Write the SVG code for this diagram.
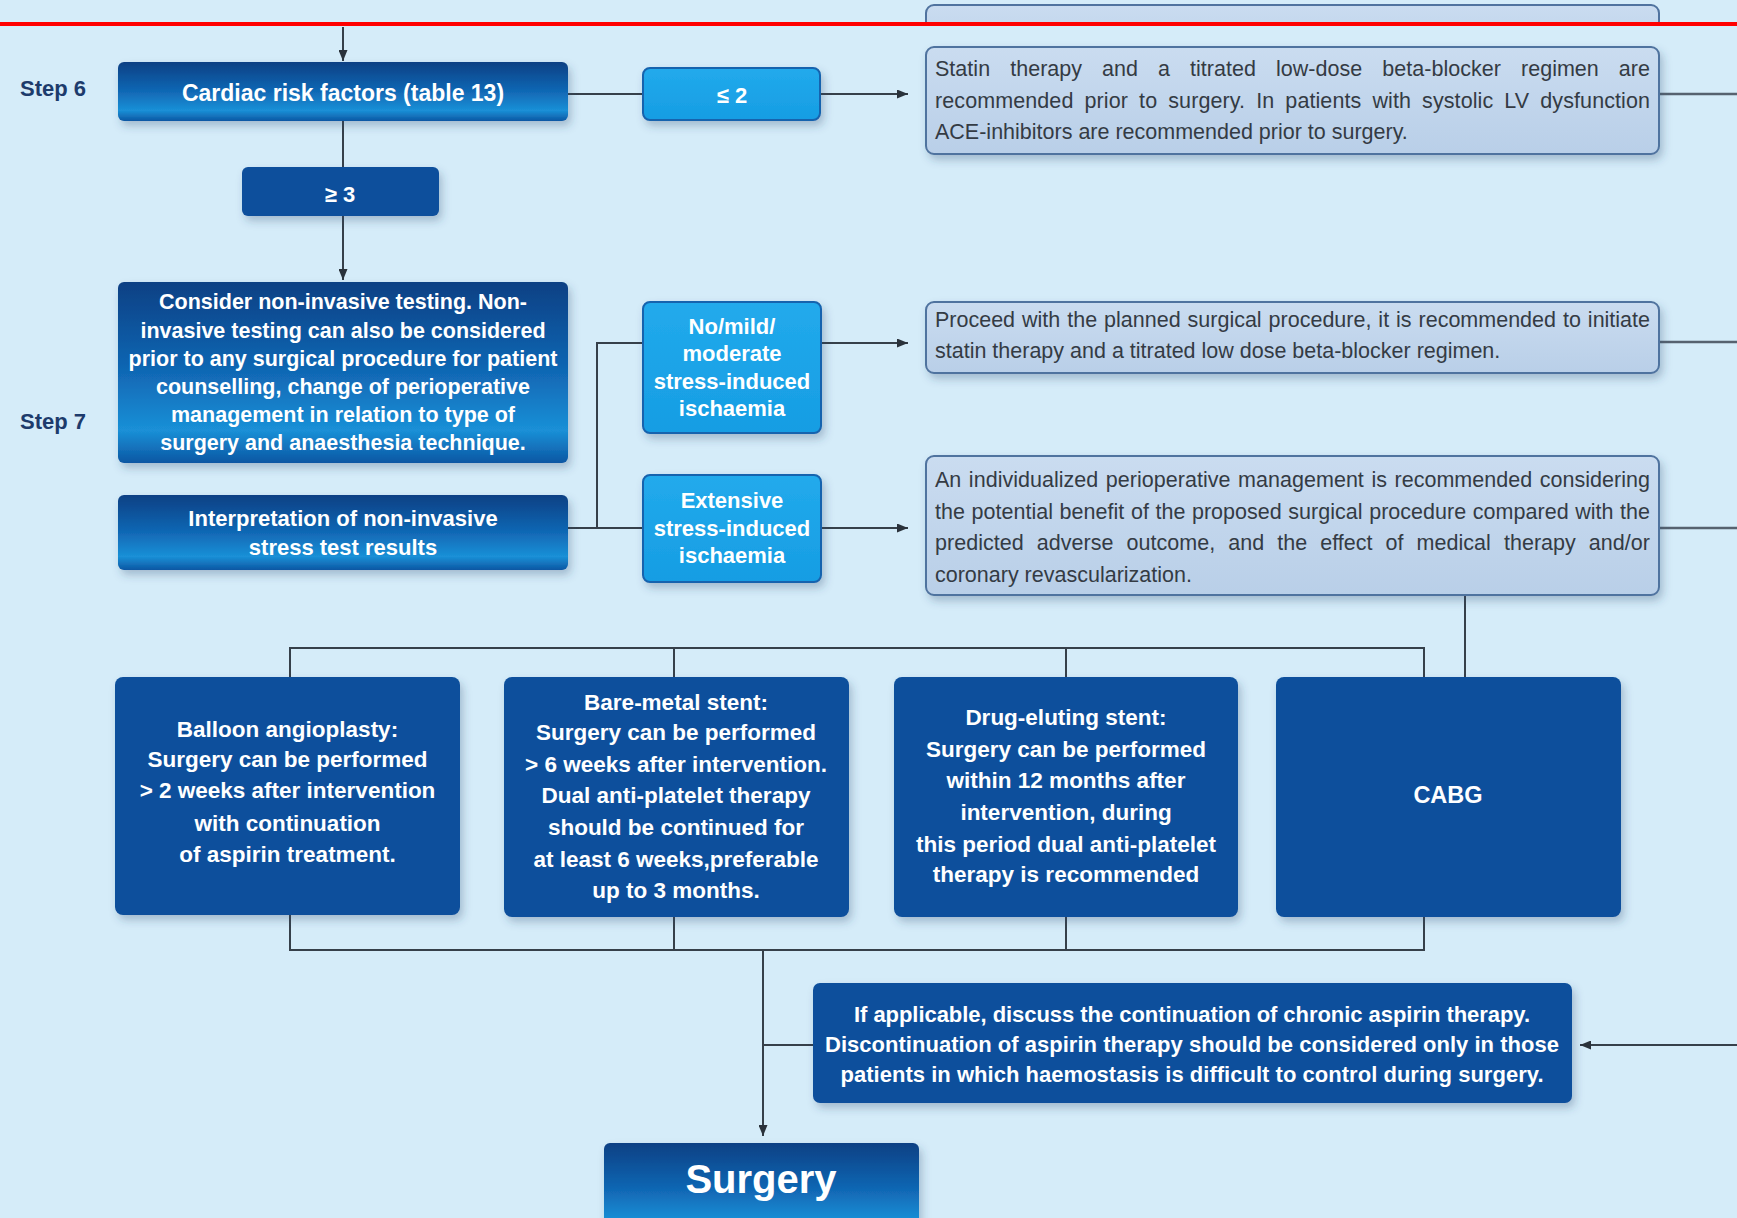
<svg xmlns="http://www.w3.org/2000/svg" width="1737" height="1218" viewBox="0 0 1737 1218">
<defs>
<style>
.conn{stroke:#36404a;stroke-width:2;fill:none}
.side{stroke:#56626f;stroke-width:2.5;fill:none}
.grad{fill:url(#gDark)}
.dark{fill:#0b4f9c}
.cyan{fill:url(#gCyan);stroke:#1463ae;stroke-width:2}
.light{fill:url(#gLight);stroke:#50739f;stroke-width:2}
.wt{font-family:"Liberation Sans",Arial,sans-serif;font-weight:bold;fill:#ffffff;text-anchor:middle;font-size:22px}
.wb{font-family:"Liberation Sans",Arial,sans-serif;font-weight:bold;fill:#ffffff;text-anchor:middle;font-size:22.5px}
.lt{font-family:"Liberation Sans",Arial,sans-serif;fill:#343b44;font-size:21.5px}
.step{font-family:"Liberation Sans",Arial,sans-serif;font-weight:bold;fill:#1d3b6c;font-size:22px}
</style>
<linearGradient id="gDark" x1="0" y1="0" x2="0" y2="1">
<stop offset="0" stop-color="#0a4084"/>
<stop offset="0.5" stop-color="#1168b5"/>
<stop offset="0.82" stop-color="#1a90d7"/>
<stop offset="1" stop-color="#0c57a3"/>
</linearGradient>
<linearGradient id="gCyan" x1="0" y1="0" x2="0" y2="1">
<stop offset="0" stop-color="#22aaec"/>
<stop offset="1" stop-color="#169de3"/>
</linearGradient>
<linearGradient id="gLight" x1="0" y1="0" x2="0" y2="1">
<stop offset="0" stop-color="#cadcf0"/>
<stop offset="1" stop-color="#b9cfe8"/>
</linearGradient>
<filter id="sh" x="-10%" y="-10%" width="125%" height="140%">
<feDropShadow dx="3" dy="5" stdDeviation="4" flood-color="#2a4a70" flood-opacity="0.3"/>
</filter>
<marker id="arr" markerWidth="11" markerHeight="9" refX="11" refY="4.5" orient="auto" markerUnits="userSpaceOnUse">
<path d="M0,0 L11,4.5 L0,9 z" fill="#2a323b"/>
</marker>
<clipPath id="topclip"><rect x="0" y="0" width="1737" height="22"/></clipPath>
</defs>

<rect x="0" y="0" width="1737" height="1218" fill="#d5ecf9"/>

<g id="partial-top" clip-path="url(#topclip)">
<rect class="light" x="926" y="5" width="733" height="60" rx="8"/>
</g>
<line x1="0" y1="24" x2="1737" y2="24" stroke="#ff0000" stroke-width="4"/>

<g id="connectors">
<path class="conn" d="M343,27 V61" marker-end="url(#arr)"/>
<path class="conn" d="M568,94 H643"/>
<path class="conn" d="M820,94 H908" marker-end="url(#arr)"/>
<path class="side" d="M1659,94 H1737"/>
<path class="conn" d="M343,121 V167"/>
<path class="conn" d="M343,216 V280" marker-end="url(#arr)"/>
<path class="conn" d="M568,528 H643"/>
<path class="conn" d="M597,528 V343 H643"/>
<path class="conn" d="M821,343 H908" marker-end="url(#arr)"/>
<path class="conn" d="M821,528 H908" marker-end="url(#arr)"/>
<path class="side" d="M1659,342 H1737"/>
<path class="side" d="M1659,528 H1737"/>
<path class="conn" d="M1465,595 V677"/>
<path class="conn" d="M290,677 V648 H1424 V677"/>
<path class="conn" d="M674,648 V677"/>
<path class="conn" d="M1066,648 V677"/>
<path class="conn" d="M290,915 V950 H1424 V917"/>
<path class="conn" d="M674,917 V950"/>
<path class="conn" d="M1066,917 V950"/>
<path class="conn" d="M763,950 V1136" marker-end="url(#arr)"/>
<path class="conn" d="M763,1045 H813"/>
<path class="conn" d="M1737,1045 H1580" marker-end="url(#arr)"/>
</g>

<g id="step6-label"><text class="step" x="20" y="96">Step 6</text></g>
<g id="step7-label"><text class="step" x="20" y="429">Step 7</text></g>

<g id="cardiac">
<rect class="grad" filter="url(#sh)" x="118" y="62" width="450" height="59" rx="6"/>
<text class="wt" x="343" y="101" style="font-size:23px">Cardiac risk factors (table 13)</text>
</g>

<g id="le2">
<rect class="cyan" filter="url(#sh)" x="643" y="68" width="177" height="52" rx="7"/>
<text class="wt" x="732" y="103">≤ 2</text>
</g>

<g id="statin">
<rect class="light" filter="url(#sh)" x="926" y="47" width="733" height="107" rx="8"/>
<text class="lt" x="935" y="76" word-spacing="14" textLength="715" lengthAdjust="spacing">Statin therapy and a titrated low-dose beta-blocker regimen are</text>
<text class="lt" x="935" y="107.5" word-spacing="5" textLength="715" lengthAdjust="spacing">recommended prior to surgery. In patients with systolic LV dysfunction</text>
<text class="lt" x="935" y="139">ACE-inhibitors are recommended prior to surgery.</text>
</g>

<g id="ge3">
<rect class="dark" filter="url(#sh)" x="242" y="167" width="197" height="49" rx="6"/>
<text class="wt" x="340" y="202">≥ 3</text>
</g>

<g id="consider">
<rect class="grad" filter="url(#sh)" x="118" y="282" width="450" height="181" rx="6"/>
<text class="wt" x="343" y="309" style="font-size:21.5px">Consider non-invasive testing. Non-</text>
<text class="wt" x="343" y="337.5" style="font-size:21.5px">invasive testing can also be considered</text>
<text class="wt" x="343" y="366" style="font-size:21.5px">prior to any surgical procedure for patient</text>
<text class="wt" x="343" y="394" style="font-size:21.5px">counselling, change of perioperative</text>
<text class="wt" x="343" y="422" style="font-size:21.5px">management in relation to type of</text>
<text class="wt" x="343" y="449.5" style="font-size:21.5px">surgery and anaesthesia technique.</text>
</g>

<g id="interpretation">
<rect class="grad" filter="url(#sh)" x="118" y="495" width="450" height="75" rx="6"/>
<text class="wt" x="343" y="526">Interpretation of non-invasive</text>
<text class="wt" x="343" y="555">stress test results</text>
</g>

<g id="nomild">
<rect class="cyan" filter="url(#sh)" x="643" y="302" width="178" height="131" rx="7"/>
<text class="wt" x="732" y="334">No/mild/</text>
<text class="wt" x="732" y="361">moderate</text>
<text class="wt" x="732" y="389">stress-induced</text>
<text class="wt" x="732" y="416">ischaemia</text>
</g>

<g id="extensive">
<rect class="cyan" filter="url(#sh)" x="643" y="475" width="178" height="107" rx="7"/>
<text class="wt" x="732" y="508">Extensive</text>
<text class="wt" x="732" y="536">stress-induced</text>
<text class="wt" x="732" y="563">ischaemia</text>
</g>

<g id="proceed">
<rect class="light" filter="url(#sh)" x="926" y="302" width="733" height="71" rx="8"/>
<text class="lt" x="935" y="327" word-spacing="1" textLength="715" lengthAdjust="spacing">Proceed with the planned surgical procedure, it is recommended to initiate</text>
<text class="lt" x="935" y="358">statin therapy and a titrated low dose beta-blocker regimen.</text>
</g>

<g id="individualized">
<rect class="light" filter="url(#sh)" x="926" y="456" width="733" height="139" rx="8"/>
<text class="lt" x="935" y="487" word-spacing="1.5" textLength="715" lengthAdjust="spacing">An individualized perioperative management is recommended considering</text>
<text class="lt" x="935" y="518.5" word-spacing="0.5" textLength="715" lengthAdjust="spacing">the potential benefit of the proposed surgical procedure compared with the</text>
<text class="lt" x="935" y="550" word-spacing="7" textLength="715" lengthAdjust="spacing">predicted adverse outcome, and the effect of medical therapy and/or</text>
<text class="lt" x="935" y="581.5">coronary revascularization.</text>
</g>

<g id="balloon">
<rect class="dark" filter="url(#sh)" x="115" y="677" width="345" height="238" rx="8"/>
<text class="wb" x="287.5" y="737">Balloon angioplasty:</text>
<text class="wb" x="287.5" y="767">Surgery can be performed</text>
<text class="wb" x="287.5" y="798">&gt; 2 weeks after intervention</text>
<text class="wb" x="287.5" y="830.5">with continuation</text>
<text class="wb" x="287.5" y="861.5">of aspirin treatment.</text>
</g>

<g id="baremetal">
<rect class="dark" filter="url(#sh)" x="504" y="677" width="345" height="240" rx="8"/>
<text class="wb" x="676" y="710">Bare-metal stent:</text>
<text class="wb" x="676" y="740">Surgery can be performed</text>
<text class="wb" x="676" y="771.5">&gt; 6 weeks after intervention.</text>
<text class="wb" x="676" y="803">Dual anti-platelet therapy</text>
<text class="wb" x="676" y="835">should be continued for</text>
<text class="wb" x="676" y="866.5">at least 6 weeks,preferable</text>
<text class="wb" x="676" y="898">up to 3 months.</text>
</g>

<g id="drugeluting">
<rect class="dark" filter="url(#sh)" x="894" y="677" width="344" height="240" rx="8"/>
<text class="wb" x="1066" y="725">Drug-eluting stent:</text>
<text class="wb" x="1066" y="756.5">Surgery can be performed</text>
<text class="wb" x="1066" y="788">within 12 months after</text>
<text class="wb" x="1066" y="820">intervention, during</text>
<text class="wb" x="1066" y="851.5">this period dual anti-platelet</text>
<text class="wb" x="1066" y="881.5">therapy is recommended</text>
</g>

<g id="cabg">
<rect class="dark" filter="url(#sh)" x="1276" y="677" width="345" height="240" rx="8"/>
<text class="wt" x="1448" y="803" style="font-size:23.5px">CABG</text>
</g>

<g id="aspirin">
<rect class="dark" filter="url(#sh)" x="813" y="983" width="759" height="120" rx="7"/>
<text class="wt" x="1192" y="1021.5" textLength="676" lengthAdjust="spacing">If applicable, discuss the continuation of chronic aspirin therapy.</text>
<text class="wt" x="1192" y="1051.5" textLength="734" lengthAdjust="spacing">Discontinuation of aspirin therapy should be considered only in those</text>
<text class="wt" x="1192" y="1081.5" textLength="703" lengthAdjust="spacing">patients in which haemostasis is difficult to control during surgery.</text>
</g>

<g id="surgery">
<rect class="grad" filter="url(#sh)" x="604" y="1143" width="315" height="95" rx="6"/>
<text class="wt" x="761" y="1193" style="font-size:40px">Surgery</text>
</g>
</svg>
